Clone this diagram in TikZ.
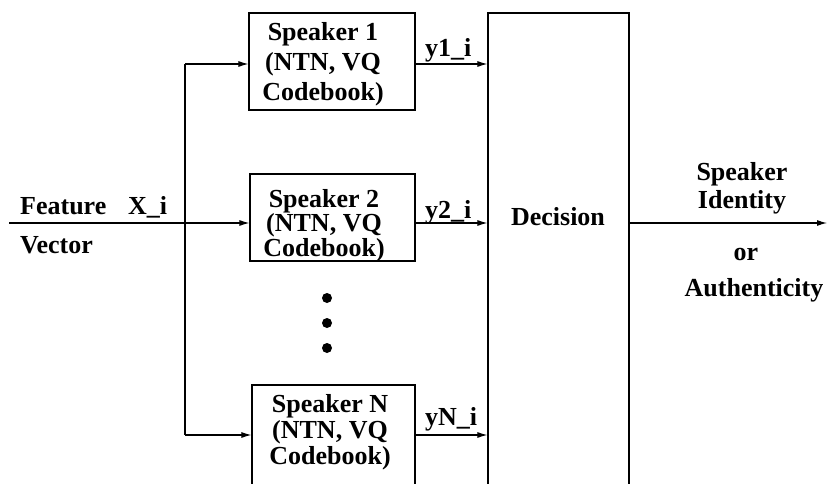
\documentclass[tikz,border=0pt]{standalone}
\usepackage{fontspec}
\setmainfont{Liberation Serif}
\usetikzlibrary{arrows.meta,calc}
\begin{document}
\begin{tikzpicture}[x=1pt,y=1pt,
  box/.style={draw, line width=1.2pt, inner sep=0pt},
  txt/.style={font=\fontsize{26}{29}\selectfont\bfseries, inner sep=0pt},
  boxtxt/.style={txt, align=center},
  lbl/.style={txt, anchor=base west},
  arr/.style={line width=1.1pt, -{Latex[length=10pt,width=6pt]}},
  ln/.style={line width=1.1pt},
  dotmark/.style={circle, fill, inner sep=0pt, minimum size=10pt}]
\useasboundingbox (0,0) rectangle (827,483);
\clip (0,0) rectangle (827,483);
% boxes
\node[box, minimum width=166pt, minimum height=97pt] (s1) at (332,421.5) {};
\node[box, minimum width=165pt, minimum height=87pt] (s2) at (332.5,265.5) {};
\node[box, minimum width=163pt, minimum height=102pt] (sn) at (333.5,47) {};
\node[box, minimum width=141pt, minimum height=480pt] (dec) at (558.5,230) {};
% box texts
\node[boxtxt, font=\fontsize{26}{30}\selectfont\bfseries] (t1) at (323,419) {Speaker 1\\(NTN, VQ\\Codebook)};
\node[boxtxt, font=\fontsize{26}{23.5}\selectfont\bfseries] (t2) at (324,257.5) {Speaker 2\\(NTN, VQ\\Codebook)};
\node[boxtxt, font=\fontsize{26}{26}\selectfont\bfseries] (tn) at (330,51) {Speaker N\\(NTN, VQ\\Codebook)};
\node[txt, anchor=base] (dect) at (558,258) {Decision};
% dots
\node[dotmark] (d1) at (327,185) {};
\node[dotmark] (d2) at (327,160) {};
\node[dotmark] (d3) at (327,135) {};
% coordinates
\coordinate (in) at (9,260);
\coordinate (b1) at (185,419);
\coordinate (b2) at (185,260);
\coordinate (bn) at (185,48);
\coordinate (out) at (827,260);
% connectors
\draw[ln] (in) -- (b2);
\draw[ln] (b1) -- (bn);
\draw[arr] (b1) -- (s1.west |- b1);
\draw[arr] (b2) -- (s2.west |- b2);
\draw[arr] (bn) -- (sn.west |- bn);
\draw[arr] (s1.east |- b1) -- (dec.west |- b1);
\draw[arr] (s2.east |- b2) -- (dec.west |- b2);
\draw[arr] (sn.east |- bn) -- (dec.west |- bn);
\draw[arr] (dec.east |- b2) -- (out);
% labels
\node[lbl] (feat) at (20,269) {Feature};
\node[lbl] (xi) at (128,269) {X\_i};
\node[lbl] (vec) at (20,230) {Vector};
\node[lbl] (y1) at (425,426) {y1\_i};
\node[lbl] (y2) at (425,265) {y2\_i};
\node[lbl] (yn) at (425,58) {yN\_i};
\node[txt, anchor=base] (o1) at (742,303) {Speaker};
\node[txt, anchor=base] (o2) at (742,275) {Identity};
\node[txt, anchor=base] (o3) at (746,223) {or};
\node[txt, anchor=base] (o4) at (754,187) {Authenticity};
\end{tikzpicture}
\end{document}
